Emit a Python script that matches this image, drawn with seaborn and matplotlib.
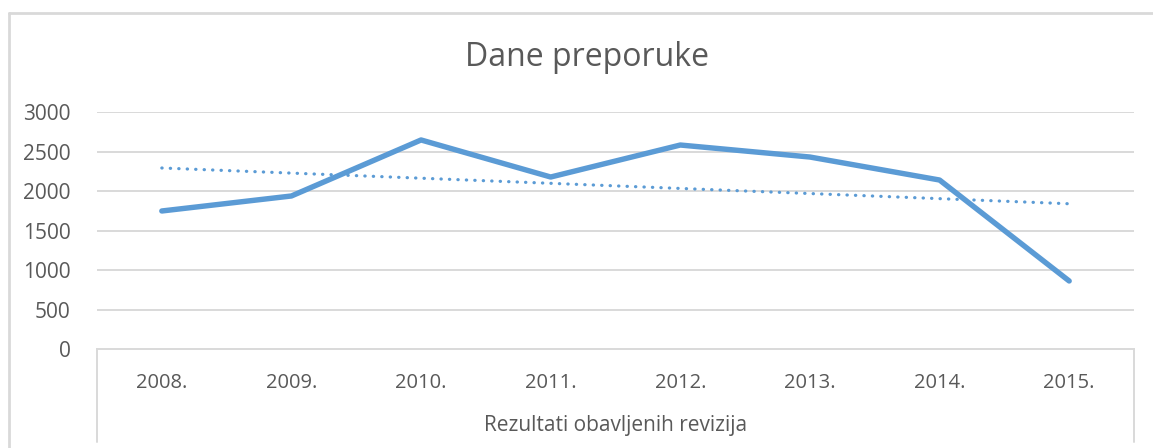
import numpy as np
import pandas as pd
import matplotlib
matplotlib.use("Agg")
import matplotlib.pyplot as plt
import seaborn as sns
from matplotlib.lines import Line2D

years = ["2008.", "2009.", "2010.", "2011.", "2012.", "2013.", "2014.", "2015."]
values = [1747, 1937, 2646, 2177, 2582, 2430, 2139, 861]
yticks = [0, 500, 1000, 1500, 2000, 2500, 3000]
title = "Dane preporuke"
group_label = "Rezultati obavljenih revizija"

sns.set_theme(style="white")
plt.rcParams["font.family"] = ["Open Sans", "DejaVu Sans"]

TXT = "#595959"
GRID = "#D9D9D9"
LINE = "#5B9BD5"

df = pd.DataFrame({"year": years, "value": values, "x": np.arange(len(years))})

fig = plt.figure(figsize=(11.53, 4.48), dpi=100)
ax = fig.add_axes([97 / 1153, 1 - 349 / 448, (1134 - 97) / 1153, (349 - 112) / 448])

sns.lineplot(data=df, x="x", y="value", ax=ax, color=LINE, linewidth=3.9,
             solid_capstyle="round", solid_joinstyle="round", zorder=3)

# linear trendline computed from data
coef = np.polyfit(df["x"], df["value"], 1)
trend = np.polyval(coef, df["x"])
ax.plot(df["x"], trend, color=LINE, linewidth=2.3, linestyle=(0, (0.1, 2.55)),
        dash_capstyle="round", zorder=2)

ax.set_xlim(-0.5, len(years) - 0.5)
ax.set_ylim(0, 3000)
ax.set_yticks(yticks)
ax.set_yticklabels([str(t) for t in yticks], fontsize=15, color=TXT)
ax.set_xticks(df["x"])
ax.set_xticklabels(years, fontsize=14.5, color=TXT)
ax.tick_params(axis="x", length=0, pad=17)
ax.tick_params(axis="y", length=0, pad=19)
ax.set_xlabel("")
ax.set_ylabel("")
for t in yticks[1:]:
    ax.axhline(t, color=GRID, linewidth=1.4, zorder=0)
for s in ["top", "right", "left"]:
    ax.spines[s].set_visible(False)
ax.spines["bottom"].set_color(GRID)
ax.spines["bottom"].set_linewidth(1.4)

# category group box
ybot = -(442 - 349) / (349 - 112)
for xa in [0, 1]:
    ax.add_line(Line2D([xa, xa], [0, ybot], transform=ax.transAxes, color=GRID,
                       linewidth=1.4, clip_on=False))
ax.text(0.5, -(425 - 349) / (349 - 112), group_label, transform=ax.transAxes,
        ha="center", va="center", fontsize=15, color=TXT)

# chart border
fig.add_artist(Line2D([8.5 / 1153, 8.5 / 1153], [0, 1 - 13 / 448], color=GRID, linewidth=2.0))
fig.add_artist(Line2D([8.5 / 1153, 1], [1 - 13 / 448, 1 - 13 / 448], color=GRID, linewidth=2.0))

fig.text(587 / 1153, 1 - 58 / 448, title, ha="center", va="center", fontsize=23, color=TXT)

fig.savefig("out.png", dpi=100, facecolor="white")
